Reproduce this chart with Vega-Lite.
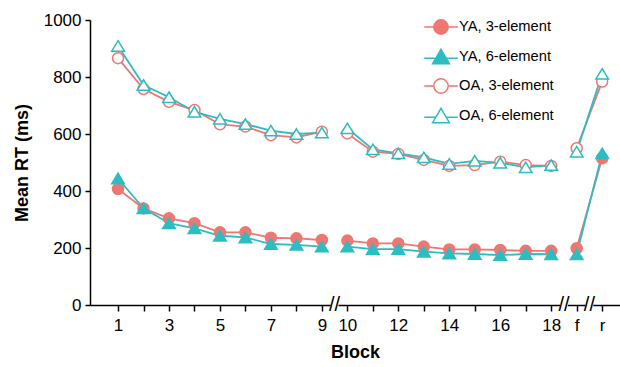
{
  "$schema": "https://vega.github.io/schema/vega-lite/v6.json",
  "width": 530,
  "height": 285,
  "autosize": {"type": "none"},
  "padding": {"left": 90, "top": 20, "right": 0, "bottom": 62},
  "config": {
    "view": {"stroke": null},
    "font": "Liberation Sans",
    "axis": {"domainColor": "black", "tickColor": "black", "labelColor": "black", "titleColor": "black", "grid": false, "domainWidth": 1.5, "tickWidth": 1.5, "labelFontSize": 17, "titleFontSize": 18, "titleFontWeight": "bold", "labelFont": "Liberation Sans", "titleFont": "Liberation Sans"},
    "legend": {"orient": "none", "legendX": 340, "legendY": -4, "padding": 0, "labelFontSize": 14.7, "labelFont": "Liberation Sans", "labelColor": "black", "symbolSize": 400, "rowPadding": 7.5, "labelOffset": 7, "symbolStrokeWidth": 1.5, "symbolOpacity": 1}
  },
  "datasets": {
    "rt": [
      {"pos": 1, "seg": "a", "series": "YA, 3-element", "rt": 407},
      {"pos": 2, "seg": "a", "series": "YA, 3-element", "rt": 339},
      {"pos": 3, "seg": "a", "series": "YA, 3-element", "rt": 304},
      {"pos": 4, "seg": "a", "series": "YA, 3-element", "rt": 287},
      {"pos": 5, "seg": "a", "series": "YA, 3-element", "rt": 255},
      {"pos": 6, "seg": "a", "series": "YA, 3-element", "rt": 255},
      {"pos": 7, "seg": "a", "series": "YA, 3-element", "rt": 236},
      {"pos": 8, "seg": "a", "series": "YA, 3-element", "rt": 234},
      {"pos": 9, "seg": "a", "series": "YA, 3-element", "rt": 228},
      {"pos": 10, "seg": "b", "series": "YA, 3-element", "rt": 226},
      {"pos": 11, "seg": "b", "series": "YA, 3-element", "rt": 216},
      {"pos": 12, "seg": "b", "series": "YA, 3-element", "rt": 216},
      {"pos": 13, "seg": "b", "series": "YA, 3-element", "rt": 205},
      {"pos": 14, "seg": "b", "series": "YA, 3-element", "rt": 195},
      {"pos": 15, "seg": "b", "series": "YA, 3-element", "rt": 195},
      {"pos": 16, "seg": "b", "series": "YA, 3-element", "rt": 193},
      {"pos": 17, "seg": "b", "series": "YA, 3-element", "rt": 190},
      {"pos": 18, "seg": "b", "series": "YA, 3-element", "rt": 190},
      {"pos": 19, "seg": "c", "series": "YA, 3-element", "rt": 199},
      {"pos": 20, "seg": "c", "series": "YA, 3-element", "rt": 515},
      {"pos": 1, "seg": "a", "series": "OA, 3-element", "rt": 866},
      {"pos": 2, "seg": "a", "series": "OA, 3-element", "rt": 758},
      {"pos": 3, "seg": "a", "series": "OA, 3-element", "rt": 713},
      {"pos": 4, "seg": "a", "series": "OA, 3-element", "rt": 684},
      {"pos": 5, "seg": "a", "series": "OA, 3-element", "rt": 634},
      {"pos": 6, "seg": "a", "series": "OA, 3-element", "rt": 626},
      {"pos": 7, "seg": "a", "series": "OA, 3-element", "rt": 596},
      {"pos": 8, "seg": "a", "series": "OA, 3-element", "rt": 588},
      {"pos": 9, "seg": "a", "series": "OA, 3-element", "rt": 608},
      {"pos": 10, "seg": "b", "series": "OA, 3-element", "rt": 602},
      {"pos": 11, "seg": "b", "series": "OA, 3-element", "rt": 538},
      {"pos": 12, "seg": "b", "series": "OA, 3-element", "rt": 530},
      {"pos": 13, "seg": "b", "series": "OA, 3-element", "rt": 509},
      {"pos": 14, "seg": "b", "series": "OA, 3-element", "rt": 488},
      {"pos": 15, "seg": "b", "series": "OA, 3-element", "rt": 491},
      {"pos": 16, "seg": "b", "series": "OA, 3-element", "rt": 503},
      {"pos": 17, "seg": "b", "series": "OA, 3-element", "rt": 491},
      {"pos": 18, "seg": "b", "series": "OA, 3-element", "rt": 488},
      {"pos": 19, "seg": "c", "series": "OA, 3-element", "rt": 550},
      {"pos": 20, "seg": "c", "series": "OA, 3-element", "rt": 784},
      {"pos": 1, "seg": "a", "series": "YA, 6-element", "rt": 444},
      {"pos": 2, "seg": "a", "series": "YA, 6-element", "rt": 339},
      {"pos": 3, "seg": "a", "series": "YA, 6-element", "rt": 287},
      {"pos": 4, "seg": "a", "series": "YA, 6-element", "rt": 269},
      {"pos": 5, "seg": "a", "series": "YA, 6-element", "rt": 243},
      {"pos": 6, "seg": "a", "series": "YA, 6-element", "rt": 237},
      {"pos": 7, "seg": "a", "series": "YA, 6-element", "rt": 214},
      {"pos": 8, "seg": "a", "series": "YA, 6-element", "rt": 211},
      {"pos": 9, "seg": "a", "series": "YA, 6-element", "rt": 205},
      {"pos": 10, "seg": "b", "series": "YA, 6-element", "rt": 205},
      {"pos": 11, "seg": "b", "series": "YA, 6-element", "rt": 196},
      {"pos": 12, "seg": "b", "series": "YA, 6-element", "rt": 196},
      {"pos": 13, "seg": "b", "series": "YA, 6-element", "rt": 187},
      {"pos": 14, "seg": "b", "series": "YA, 6-element", "rt": 181},
      {"pos": 15, "seg": "b", "series": "YA, 6-element", "rt": 179},
      {"pos": 16, "seg": "b", "series": "YA, 6-element", "rt": 175},
      {"pos": 17, "seg": "b", "series": "YA, 6-element", "rt": 179},
      {"pos": 18, "seg": "b", "series": "YA, 6-element", "rt": 178},
      {"pos": 19, "seg": "c", "series": "YA, 6-element", "rt": 178},
      {"pos": 20, "seg": "c", "series": "YA, 6-element", "rt": 532},
      {"pos": 1, "seg": "a", "series": "OA, 6-element", "rt": 909},
      {"pos": 2, "seg": "a", "series": "OA, 6-element", "rt": 772},
      {"pos": 3, "seg": "a", "series": "OA, 6-element", "rt": 729},
      {"pos": 4, "seg": "a", "series": "OA, 6-element", "rt": 678},
      {"pos": 5, "seg": "a", "series": "OA, 6-element", "rt": 653},
      {"pos": 6, "seg": "a", "series": "OA, 6-element", "rt": 635},
      {"pos": 7, "seg": "a", "series": "OA, 6-element", "rt": 612},
      {"pos": 8, "seg": "a", "series": "OA, 6-element", "rt": 600},
      {"pos": 9, "seg": "a", "series": "OA, 6-element", "rt": 605},
      {"pos": 10, "seg": "b", "series": "OA, 6-element", "rt": 620},
      {"pos": 11, "seg": "b", "series": "OA, 6-element", "rt": 546},
      {"pos": 12, "seg": "b", "series": "OA, 6-element", "rt": 532},
      {"pos": 13, "seg": "b", "series": "OA, 6-element", "rt": 518},
      {"pos": 14, "seg": "b", "series": "OA, 6-element", "rt": 495},
      {"pos": 15, "seg": "b", "series": "OA, 6-element", "rt": 506},
      {"pos": 16, "seg": "b", "series": "OA, 6-element", "rt": 499},
      {"pos": 17, "seg": "b", "series": "OA, 6-element", "rt": 483},
      {"pos": 18, "seg": "b", "series": "OA, 6-element", "rt": 491},
      {"pos": 19, "seg": "c", "series": "OA, 6-element", "rt": 538},
      {"pos": 20, "seg": "c", "series": "OA, 6-element", "rt": 811}
    ],
    "breaks": [{"pos": 9.5}, {"pos": 18.5}, {"pos": 19.5}]
  },
  "encoding": {
    "x": {"field": "pos", "type": "quantitative", "scale": {"domain": [-0.1, 20.7], "nice": false, "zero": false},
      "axis": {"title": "Block", "values": [1,2,3,4,5,6,7,8,9,10,11,12,13,14,15,16,17,18,19,20], "tickSize": 6, "labelPadding": 6, "titlePadding": 10, "labelOverlap": false, "labelBound": false, "labelFlush": false,
        "labelExpr": "datum.value == 19 ? 'f' : (datum.value == 20 ? 'r' : (((datum.value <= 9 && datum.value % 2 == 1) || (datum.value >= 10 && datum.value <= 18 && datum.value % 2 == 0)) ? toString(datum.value) : ''))"}}
  },
  "layer": [
    {
      "data": {"name": "rt"},
      "mark": {"type": "line", "strokeWidth": 1.8},
      "encoding": {
        "y": {"field": "rt", "type": "quantitative", "scale": {"domain": [0, 1000], "nice": false},
          "axis": {"title": "Mean RT (ms)", "format": "d", "values": [0,200,400,600,800,1000], "tickSize": 5, "labelPadding": 4, "titlePadding": 12}},
        "stroke": {"field": "series", "type": "nominal", "title": null,
          "scale": {"domain": ["YA, 3-element", "YA, 6-element", "OA, 3-element", "OA, 6-element"], "range": ["#F07672", "#2BBDC1", "#F07672", "#2BBDC1"]}},
        "detail": {"field": "seg"}
      }
    },
    {
      "data": {"name": "rt"},
      "transform": [{"filter": {"field": "series", "oneOf": ["YA, 3-element", "OA, 3-element"]}}],
      "mark": {"type": "point", "shape": "circle", "filled": true, "size": 121, "strokeWidth": 1.5, "opacity": 1},
      "encoding": {
        "y": {"field": "rt", "type": "quantitative"},
        "stroke": {"field": "series", "type": "nominal", "title": null},
        "fill": {"field": "series", "type": "nominal", "title": null,
          "scale": {"domain": ["YA, 3-element", "YA, 6-element", "OA, 3-element", "OA, 6-element"], "range": ["#F07672", "#2BBDC1", "white", "white"]}}
      }
    },
    {
      "data": {"name": "rt"},
      "transform": [{"filter": {"field": "series", "oneOf": ["YA, 6-element", "OA, 6-element"]}}],
      "mark": {"type": "point", "shape": "M0,-0.95L1.15,0.95L-1.15,0.95Z", "filled": true, "size": 121, "strokeWidth": 1.5, "opacity": 1},
      "encoding": {
        "y": {"field": "rt", "type": "quantitative"},
        "stroke": {"field": "series", "type": "nominal", "title": null},
        "fill": {"field": "series", "type": "nominal", "title": null}
      }
    },
    {
      "data": {"name": "rt"},
      "mark": {"type": "point", "filled": true, "size": 10, "opacity": 0},
      "encoding": {
        "y": {"field": "rt", "type": "quantitative"},
        "shape": {"field": "series", "type": "nominal", "title": null,
          "scale": {"domain": ["YA, 3-element", "YA, 6-element", "OA, 3-element", "OA, 6-element"],
            "range": ["M-1.68,0L-0.72,0M0.72,0L1.68,0M0.72,0A0.72,0.72,0,1,1,-0.72,0A0.72,0.72,0,1,1,0.72,0Z", "M-1.68,0.18L-0.53,0.18M0.53,0.18L1.68,0.18M0,-0.72L0.84,0.72L-0.84,0.72Z", "M-1.68,0L-0.72,0M0.72,0L1.68,0M0.72,0A0.72,0.72,0,1,1,-0.72,0A0.72,0.72,0,1,1,0.72,0Z", "M-1.68,0.18L-0.53,0.18M0.53,0.18L1.68,0.18M0,-0.72L0.84,0.72L-0.84,0.72Z"]}}
      }
    },
    {
      "data": {"name": "breaks"},
      "mark": {"type": "point", "shape": "square", "filled": true, "fill": "white", "strokeWidth": 0, "size": 60, "opacity": 1},
      "encoding": {
        "y": {"datum": 0, "type": "quantitative"}
      }
    },
    {
      "data": {"name": "breaks"},
      "mark": {"type": "text", "text": "//", "fontSize": 20, "font": "Liberation Sans", "color": "black", "baseline": "middle", "align": "center"},
      "encoding": {
        "y": {"datum": 0, "type": "quantitative"}
      }
    }
  ]
}
